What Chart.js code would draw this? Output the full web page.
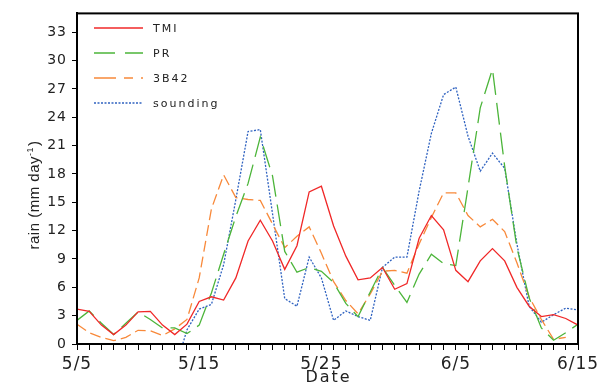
<!DOCTYPE html>
<html>
<head>
<meta charset="utf-8">
<script src="https://cdn.jsdelivr.net/npm/chart.js@4/dist/chart.umd.min.js"></script>
<style>
  html, body { margin: 0; padding: 0; background: #fff; }
  #wrap { width: 602px; height: 385px; }
</style>
</head>
<body>
<div id="wrap"><canvas id="c" width="602" height="385"></canvas></div>
<script>
// Dates (one per day, 5/5 .. 6/15)
const dates = ['5/5','5/6','5/7','5/8','5/9','5/10','5/11','5/12','5/13','5/14',
  '5/15','5/16','5/17','5/18','5/19','5/20','5/21','5/22','5/23','5/24',
  '5/25','5/26','5/27','5/28','5/29','5/30','5/31','6/1','6/2','6/3','6/4',
  '6/5','6/6','6/7','6/8','6/9','6/10','6/11','6/12','6/13','6/14','6/15'];

// Labelled ticks on the date axis
const tickDates = ['5/5','5/15','5/25','6/5','6/15'];
// Rain axis ticks
const yTicks = [0,3,6,9,12,15,18,21,24,27,30,33];

// Series (mm/day)
const tmi = [3.7,3.45,2.0,1.0,2.0,3.4,3.45,2.0,1.0,2.1,
  4.5,5.0,4.65,7.0,10.9,13.1,10.9,7.9,10.4,16.1,
  16.7,12.5,9.3,6.8,7.0,8.1,5.8,6.4,11.2,13.6,
  12.1,7.8,6.6,8.8,10.1,8.8,6.0,4.0,2.9,3.1,2.7,2.0];
const pr = [2.5,3.5,2.2,1.0,2.2,3.4,2.6,1.7,1.7,1.1,
  2.0,5.4,9.5,13.5,17.0,21.9,17.8,9.8,7.6,8.1,
  7.7,6.5,4.3,2.9,5.5,8.1,6.2,4.4,7.4,9.5,
  8.5,8.3,16.6,25.0,29.1,18.8,10.2,4.9,1.7,0.4,1.2,2.1];
const b3b42 = [2.1,1.2,0.7,0.35,0.7,1.45,1.4,0.9,1.6,2.6,
  7.0,14.3,17.9,15.5,15.3,15.2,12.7,10.2,11.4,12.4,
  9.6,6.6,4.6,3.2,5.3,7.7,7.8,7.5,10.6,13.4,
  16.0,16.0,13.6,12.4,13.2,11.9,8.6,5.0,2.6,0.5,0.7,null];
const sounding = [null,null,null,null,null,null,null,null,-2.8,1.5,
  3.7,4.2,8.4,15.3,22.5,22.7,13.8,4.8,4.0,9.2,
  7.0,2.5,3.5,2.9,2.5,8.1,9.2,9.2,16.2,22.3,
  26.4,27.2,22.0,18.3,20.2,18.6,10.6,4.0,2.3,3.1,3.8,3.6];

const seriesNames = ['TMI','PR','3B42','sounding'];
const seriesColors = ['#f02828','#4cb53a','#f8893a','#2f62c0'];
const seriesDash = [[], [22,8], [11,5], [2,1.5]];
const legendDash = [[], [21,10], [22,8,9,8], [2,1.5]];
const allSeries = [tmi, pr, b3b42, sounding];

const toPts = arr => arr.map((v, i) => ({x: i, y: v}));

const FONT = '"DejaVu Sans", sans-serif';

const deco = {
  id: 'deco',
  beforeDraw(chart) {
    chart.ctx.letterSpacing = '1px';
  },
  afterDraw(chart) {
    const ctx = chart.ctx;
    const a = chart.chartArea;
    ctx.save();
    ctx.letterSpacing = '0px';
    // frame
    ctx.strokeStyle = '#000';
    ctx.lineWidth = 2;
    ctx.setLineDash([]);
    ctx.strokeRect(a.left, a.top, a.right - a.left, a.bottom - a.top);

    // legend
    const x0 = a.left + 17, x1 = a.left + 66, tx = a.left + 76;
    const rows = [28, 53, 78, 103];
    ctx.font = '11px ' + FONT;
    ctx.letterSpacing = '2px';
    ctx.textBaseline = 'middle';
    ctx.textAlign = 'left';
    for (let i = 0; i < seriesNames.length; i++) {
      ctx.beginPath();
      ctx.strokeStyle = seriesColors[i];
      ctx.lineWidth = 1.3;
      ctx.setLineDash(legendDash[i]);
      ctx.moveTo(x0, rows[i]);
      ctx.lineTo(x1, rows[i]);
      ctx.stroke();
      ctx.fillStyle = '#222';
      ctx.fillText(seriesNames[i], tx, rows[i] + 1);
    }
    ctx.setLineDash([]);

    // x title
    ctx.font = '16px ' + FONT;
    ctx.letterSpacing = '2px';
    ctx.textAlign = 'center';
    ctx.textBaseline = 'alphabetic';
    ctx.fillStyle = '#222';
    ctx.fillText('Date', (a.left + a.right) / 2 + 1, 382);

    // y title (rotated)
    ctx.letterSpacing = '0.5px';
    ctx.translate(39, 195);
    ctx.rotate(-Math.PI / 2);
    const main = 'rain (mm day';
    const sup = '-1';
    const end = ')';
    ctx.font = '15px "Liberation Sans", Arial, sans-serif';
    const wMain = ctx.measureText(main).width;
    const wEnd = ctx.measureText(end).width;
    ctx.font = '9px "Liberation Sans", Arial, sans-serif';
    const wSup = ctx.measureText(sup).width;
    const total = wMain + wSup + wEnd + 1;
    let px = -total / 2;
    ctx.textAlign = 'left';
    ctx.font = '15px "Liberation Sans", Arial, sans-serif';
    ctx.fillText(main, px, 0);
    px += wMain;
    ctx.font = '9px "Liberation Sans", Arial, sans-serif';
    ctx.fillText(sup, px, -6);
    px += wSup + 1;
    ctx.font = '15px "Liberation Sans", Arial, sans-serif';
    ctx.fillText(end, px, 0);
    ctx.restore();
  }
};

const datasets = allSeries.map((arr, i) => ({
  label: seriesNames[i],
  data: toPts(arr),
  borderColor: seriesColors[i],
  backgroundColor: seriesColors[i],
  borderWidth: 1.3,
  borderDash: seriesDash[i],
  pointRadius: 0,
  tension: 0,
  spanGaps: false,
  fill: false
}));

new Chart(document.getElementById('c'), {
  type: 'line',
  data: { datasets },
  plugins: [deco],
  options: {
    responsive: false,
    animation: false,
    devicePixelRatio: 1,
    layout: { padding: { top: 7, right: 24, left: 0, bottom: 0 } },
    plugins: { legend: { display: false }, tooltip: { enabled: false } },
    scales: {
      x: {
        type: 'linear',
        min: 0,
        max: dates.length - 1,
        afterBuildTicks(scale) {
          scale.ticks = dates.map((d, i) => ({ value: i }));
        },
        afterFit(scale) { scale.height = 41; },
        ticks: {
          autoSkip: false,
          maxRotation: 0,
          minRotation: 0,
          padding: 4,
          color: '#222',
          font: { family: FONT, size: 17 },
          callback(v) {
            const d = dates[v];
            return tickDates.includes(d) ? d : '';
          }
        },
        grid: { display: true, drawOnChartArea: false, drawTicks: true, tickLength: 6, color: '#000', lineWidth: 1 },
        border: { display: true, color: '#000', width: 2 }
      },
      y: {
        min: 0,
        max: 35,
        afterBuildTicks(scale) {
          scale.ticks = yTicks.map(v => ({ value: v }));
        },
        afterFit(scale) { scale.width = 77; },
        ticks: {
          padding: 5,
          color: '#222',
          font: { family: FONT, size: 14 },
          callback(v) { return String(v); }
        },
        grid: { display: true, drawOnChartArea: false, drawTicks: true, tickLength: 5, color: '#000', lineWidth: 1 },
        border: { display: true, color: '#000', width: 2 }
      }
    }
  }
});
</script>
</body>
</html>
